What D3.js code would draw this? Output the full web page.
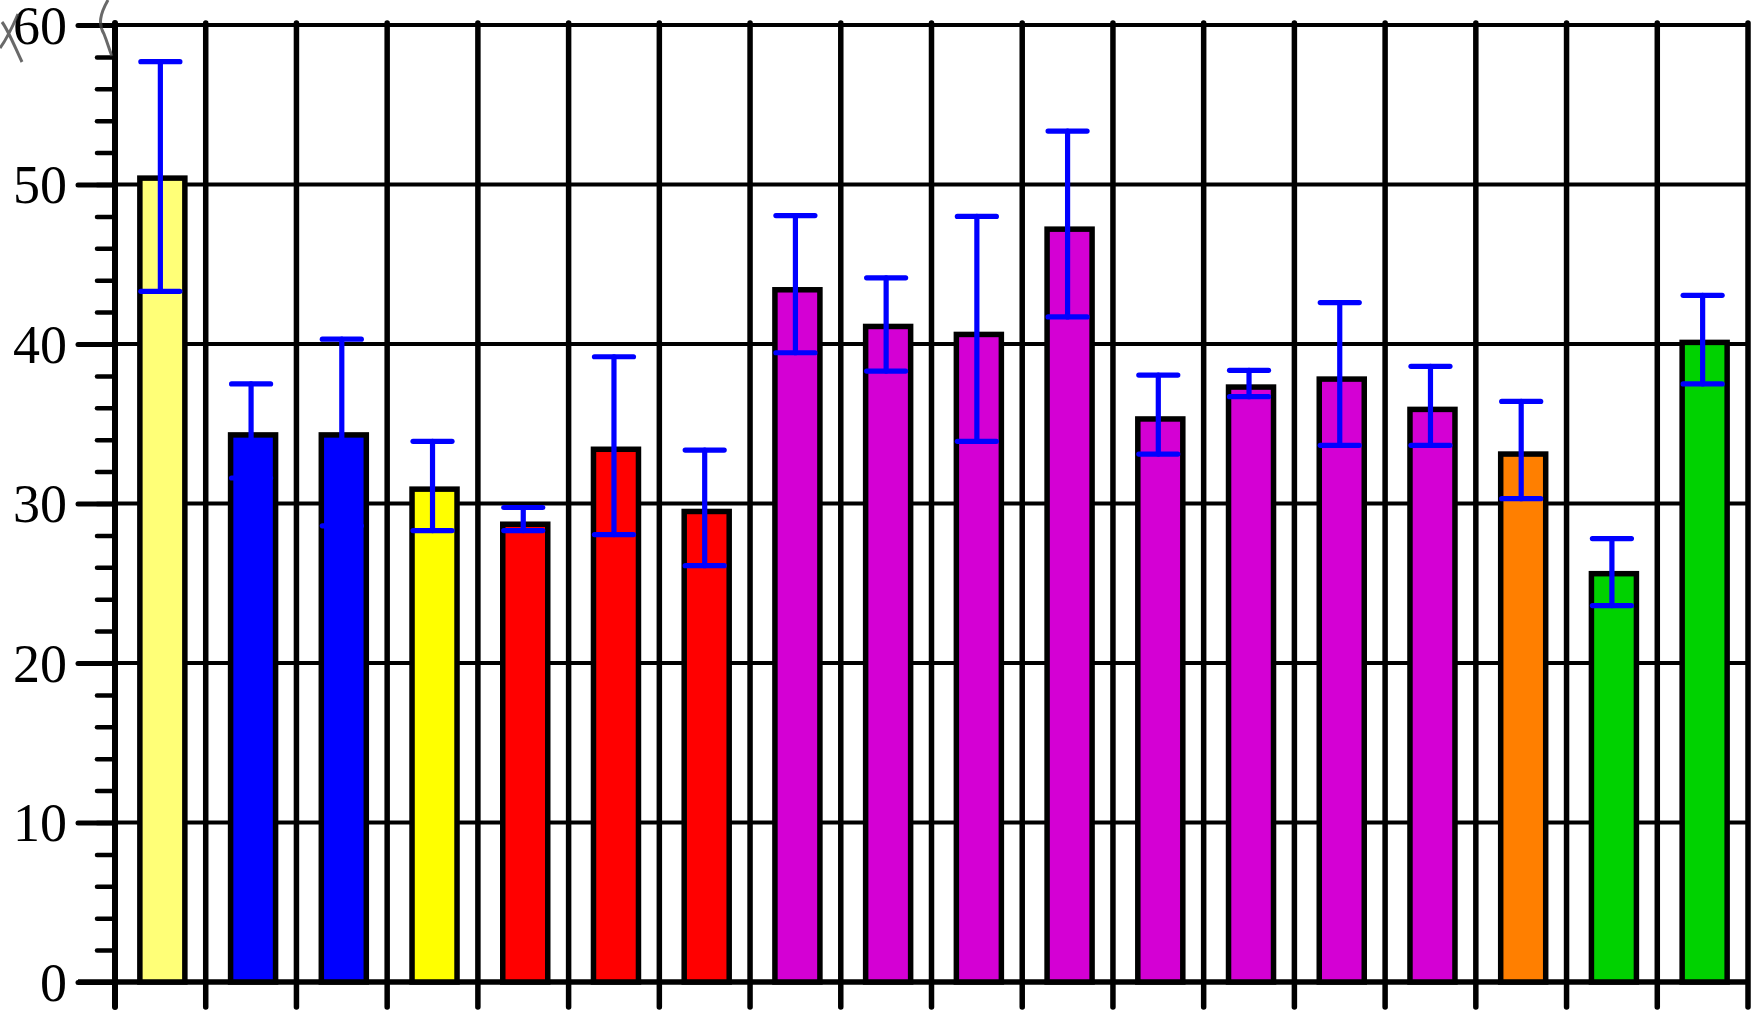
<!DOCTYPE html>
<html>
<head>
<meta charset="utf-8">
<script src="https://cdn.jsdelivr.net/npm/d3@7"></script>
<style>
  body { margin: 0; background: #fff; }
  svg { display: block; }
  .tick text { font-family: "Liberation Serif", "Times New Roman", serif; }
</style>
</head>
<body>
<svg width="1754" height="1011"></svg>
<script>
// bar values
var means = [50.4, 34.3, 34.3, 30.9, 28.7, 33.4, 29.5, 43.4, 41.1, 40.6, 47.2, 35.3, 37.3, 37.8, 35.9, 33.1, 25.6, 40.1];
var upper = [57.7, 37.5, 40.3, 33.9, 29.75, 39.2, 33.35, 48.05, 44.15, 48.0, 53.35, 38.05, 38.35, 42.6, 38.6, 36.4, 27.8, 43.05];
var lower = [43.3, 31.6, 28.6, 28.3, 28.3, 28.05, 26.1, 39.45, 38.3, 33.9, 41.7, 33.1, 36.7, 33.65, 33.65, 30.3, 23.6, 37.5];
var barColors = ["#ffff77", "#0000ff", "#0000ff", "#ffff00", "#ff0000", "#ff0000", "#ff0000",
                 "#d400d4", "#d400d4", "#d400d4", "#d400d4", "#d400d4", "#d400d4", "#d400d4", "#d400d4",
                 "#ff7f00", "#00d200", "#00d200"];
var majorTicks = [0, 10, 20, 30, 40, 50, 60];
var minorTicks = d3.range(0, 61, 2);

var svg = d3.select("svg"),
    width = +svg.attr("width"),
    height = +svg.attr("height");

// plot box edges (note: "top" is taken by window.top)
var plotLeft = 115, plotRight = 1748, plotTop = 25, plotBottom = 982;

var x = d3.scaleBand()
    .domain(d3.range(means.length))
    .range([plotLeft, plotRight])
    .padding(0);

var y = d3.scaleLinear()
    .domain([0, 60])
    .range([plotBottom, plotTop]);

// horizontal grid lines
svg.append("g")
    .selectAll("line")
    .data(majorTicks.filter(function(d) { return d > 0; }))
    .enter().append("line")
    .attr("x1", plotLeft)
    .attr("x2", plotRight + 2)
    .attr("y1", function(d) { return y(d); })
    .attr("y2", function(d) { return y(d); })
    .style("stroke", "#000")
    .style("stroke-width", 4);

// vertical grid lines, they run a bit below the zero line
svg.append("g")
    .selectAll("line")
    .data(d3.range(means.length + 1))
    .enter().append("line")
    .attr("x1", function(i) { return plotLeft + i * x.bandwidth(); })
    .attr("x2", function(i) { return plotLeft + i * x.bandwidth(); })
    .attr("y1", plotTop - 2)
    .attr("y2", plotBottom + 25)
    .style("stroke", "#000")
    .style("stroke-width", function(i) { return i == 0 ? 6 : 5.5; })
    .style("stroke-linecap", "round");

// minor ticks
svg.append("g")
    .attr("transform", "translate(" + plotLeft + ",0)")
    .call(d3.axisLeft(y).tickValues(minorTicks).tickSize(18).tickFormat(""))
    .call(function(g) { g.select(".domain").remove(); })
    .selectAll("line").style("stroke-width", 4.5).style("stroke-linecap", "round");

// major ticks with labels
var yAxis = svg.append("g")
    .attr("transform", "translate(" + plotLeft + ",0)")
    .call(d3.axisLeft(y).tickValues(majorTicks).tickSize(37).tickPadding(11));
yAxis.select(".domain").remove();
yAxis.selectAll("line").style("stroke-width", 5).style("stroke-linecap", "round");
yAxis.selectAll("text")
    .attr("dy", "0.34em")
    .style("font-size", "54px")
    .style("fill", "#000");

// zero line
svg.append("line")
    .attr("x1", plotLeft - 37).attr("x2", plotRight + 2)
    .attr("y1", y(0)).attr("y2", y(0))
    .style("stroke", "#000")
    .style("stroke-width", 5.5);

// bars
svg.append("g")
    .selectAll("rect")
    .data(means)
    .enter().append("rect")
    .attr("x", function(d, i) { return x(i) + x.bandwidth() / 2 + 2 - 22.5; })
    .attr("width", 45)
    .attr("y", function(d) { return y(d); })
    .attr("height", function(d) { return y(0) - y(d); })
    .style("fill", function(d, i) { return barColors[i]; })
    .style("stroke", "#000")
    .style("stroke-width", 5.5);

// error bars
var err = svg.append("g")
    .selectAll("g")
    .data(means)
    .enter().append("g")
    .attr("transform", function(d, i) { return "translate(" + (x(i) + x.bandwidth() / 2) + ",0)"; })
    .style("stroke", "#0000ff")
    .style("stroke-width", 5.2)
    .style("stroke-linecap", "round");

err.append("line")
    .attr("x1", 0).attr("x2", 0)
    .attr("y1", function(d, i) { return y(upper[i]); })
    .attr("y2", function(d, i) { return y(lower[i]); });
err.append("line")
    .attr("x1", -19.5).attr("x2", 19.5)
    .attr("y1", function(d, i) { return y(upper[i]); })
    .attr("y2", function(d, i) { return y(upper[i]); });
err.append("line")
    .attr("x1", -19.5).attr("x2", 19.5)
    .attr("y1", function(d, i) { return y(lower[i]); })
    .attr("y2", function(d, i) { return y(lower[i]); });

// grey pencil marks in the top left corner of the scan
svg.append("path")
    .attr("d", "M2,22 C8,30 14,45 22,62 M0,48 C6,40 12,28 18,14 M108,0 C100,14 98,24 104,34 C108,44 110,52 112,56")
    .style("fill", "none")
    .style("stroke", "#444")
    .style("stroke-width", 3)
    .style("opacity", 0.8);
</script>
</body>
</html>
